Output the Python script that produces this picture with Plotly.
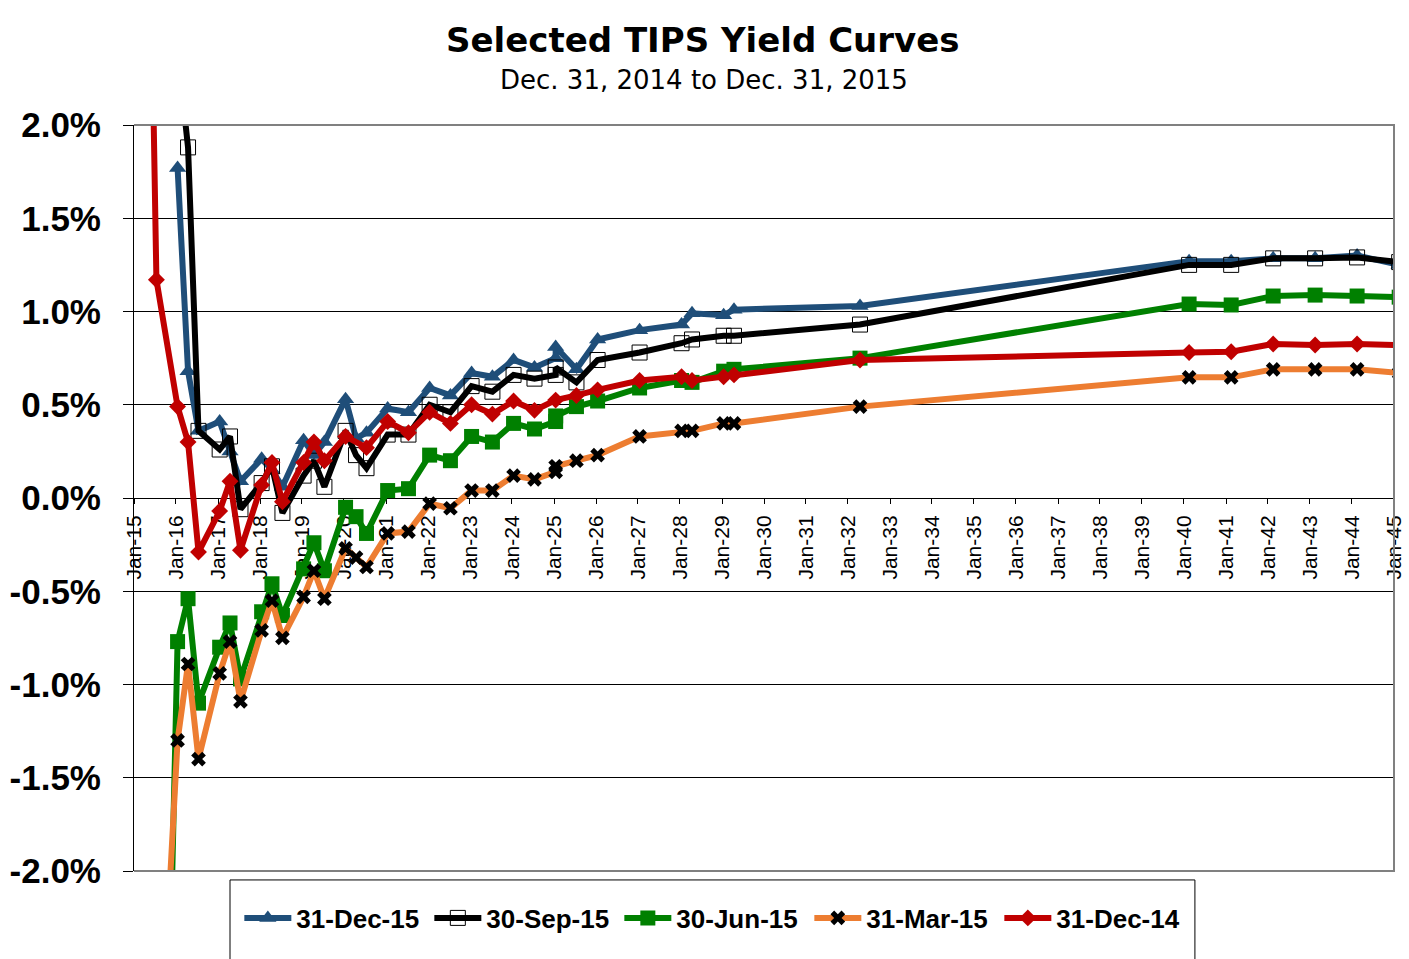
import plotly.graph_objects as go

# ---------------- data ----------------
series_names = ["31-Dec-15", "30-Sep-15", "30-Jun-15", "31-Mar-15", "31-Dec-14"]

mat_dec15 = ["2016-01-15", "2016-04-15", "2016-07-15", "2017-01-15", "2017-04-15", "2017-07-15",
             "2018-01-15", "2018-04-15", "2018-07-15", "2019-01-15", "2019-04-15", "2019-07-15",
             "2020-01-15", "2020-04-15", "2020-07-15", "2021-01-15", "2021-07-15", "2022-01-15",
             "2022-07-15", "2023-01-15", "2023-07-15", "2024-01-15", "2024-07-15", "2025-01-15",
             "2025-01-15", "2025-07-15", "2026-01-15", "2027-01-15", "2028-01-15", "2028-04-15",
             "2029-01-15", "2029-04-15", "2032-04-15", "2040-02-15", "2041-02-15", "2042-02-15",
             "2043-02-15", "2044-02-15", "2045-02-15"]
yld_dec15 = [1.77, 0.68, 0.36, 0.41, 0.25, 0.09, 0.21, 0.15, 0.06, 0.31, 0.23, 0.30,
             0.53, 0.32, 0.35, 0.48, 0.46, 0.59, 0.55, 0.67, 0.65, 0.74, 0.70, 0.75,
             0.81, 0.69, 0.85, 0.90, 0.93, 0.99, 0.98, 1.01, 1.03, 1.27, 1.27, 1.285,
             1.285, 1.30, 1.25]

mat_sep15 = list(mat_dec15)
yld_sep15 = [2.40, 1.88, 0.36, 0.26, 0.33, -0.06, 0.08, 0.17, -0.08, 0.12, 0.20, 0.06,
             0.36, 0.23, 0.16, 0.34, 0.34, 0.50, 0.46, 0.60, 0.57, 0.66, 0.64, 0.66,
             0.70, 0.62, 0.74, 0.78, 0.83, 0.85, 0.87, 0.87, 0.93, 1.25, 1.25, 1.285,
             1.285, 1.29, 1.265]

mat_jun15 = ["2015-07-15"] + mat_dec15
yld_jun15 = [-5.7, -0.77, -0.54, -1.10, -0.80, -0.67, -0.97, -0.61, -0.46, -0.63, -0.38, -0.24,
             -0.39, -0.05, -0.10, -0.19, 0.04, 0.05, 0.23, 0.20, 0.33, 0.30, 0.40, 0.37,
             0.41, 0.44, 0.49, 0.52, 0.59, 0.63, 0.62, 0.68, 0.69, 0.75, 1.04, 1.035,
             1.083, 1.088, 1.083, 1.077]

mat_mar15 = ["2015-04-15", "2015-07-15"] + mat_dec15
yld_mar15 = [-5.5, -3.4, -1.30, -0.89, -1.40, -0.94, -0.77, -1.09, -0.71, -0.55, -0.75, -0.53,
             -0.39, -0.54, -0.27, -0.32, -0.37, -0.19, -0.18, -0.03, -0.055, 0.04, 0.04, 0.12,
             0.10, 0.14, 0.17, 0.20, 0.23, 0.33, 0.36, 0.36, 0.40, 0.40, 0.49, 0.647,
             0.647, 0.69, 0.69, 0.69, 0.67]

mat_dec14 = ["2015-04-15", "2015-07-15", "2016-01-15", "2016-04-15", "2016-07-15", "2017-01-15",
             "2017-04-15", "2017-07-15", "2018-01-15", "2018-04-15", "2018-07-15", "2019-01-15",
             "2019-04-15", "2019-07-15", "2020-01-15", "2020-07-15", "2021-01-15", "2021-07-15",
             "2022-01-15", "2022-07-15", "2023-01-15", "2023-07-15", "2024-01-15", "2024-07-15",
             "2025-01-15", "2025-07-15", "2026-01-15", "2027-01-15", "2028-01-15", "2028-04-15",
             "2029-01-15", "2029-04-15", "2032-04-15", "2040-02-15", "2041-02-15", "2042-02-15",
             "2043-02-15", "2044-02-15", "2045-02-15"]
yld_dec14 = [4.4, 1.17, 0.49, 0.30, -0.29, -0.07, 0.09, -0.28, 0.07, 0.19, -0.02, 0.19,
             0.30, 0.20, 0.33, 0.27, 0.41, 0.35, 0.46, 0.40, 0.50, 0.45, 0.52, 0.47,
             0.525, 0.55, 0.58, 0.63, 0.65, 0.63, 0.65, 0.66, 0.74, 0.78, 0.784, 0.826,
             0.82, 0.826, 0.82]

y_tickvals = [-2.0, -1.5, -1.0, -0.5, 0.0, 0.5, 1.0, 1.5, 2.0]
y_ticktext = ["-2.0%", "-1.5%", "-1.0%", "-0.5%", "0.0%", "0.5%", "1.0%", "1.5%", "2.0%"]

title_text = "Selected TIPS Yield Curves"
subtitle_text = "Dec. 31, 2014 to Dec. 31, 2015"

# ---------------- styles ----------------
line_colors = ["#1F4E79", "#000000", "#008000", "#ED7D31", "#C00000"]
marker_styles = [
    dict(symbol="triangle-up", size=15, color="#1F4E79"),
    dict(symbol="square-open", size=15, color="#000000", line=dict(width=1, color="#000000")),
    dict(symbol="square", size=15, color="#008000"),
    dict(symbol="x", size=13, color="#000000"),
    dict(symbol="diamond", size=13, color="#C00000"),
]
xs = [mat_dec15, mat_sep15, mat_jun15, mat_mar15, mat_dec14]
ys = [yld_dec15, yld_sep15, yld_jun15, yld_mar15, yld_dec14]

fig = go.Figure()
for name, x, y, c, m in zip(series_names, xs, ys, line_colors, marker_styles):
    fig.add_trace(go.Scatter(x=x, y=y, name=name, mode="lines+markers",
                             line=dict(color=c, width=6), marker=m))

fig.update_layout(
    width=1409, height=959,
    margin=dict(l=134, r=15, t=125, b=88, pad=0, autoexpand=False),
    paper_bgcolor="white", plot_bgcolor="white",
    showlegend=True,
    legend=dict(orientation="h", x=0.0836, xanchor="left", y=-0.063, yanchor="middle",
                font=dict(family="Liberation Sans", size=26, color="black", weight="bold"),
                bgcolor="rgba(0,0,0,0)", borderwidth=0, itemwidth=47, entrywidth=128,
                traceorder="normal"),
    xaxis=dict(type="date", range=["2015-01-01", "2045-01-01"], dtick="M12", tick0="2015-01-01",
               tickformat="%b-%y", tickangle=-90, anchor="free", position=0.5,
               showline=True, linecolor="black", linewidth=1, ticks="outside", ticklen=5,
               tickcolor="black", showgrid=False, zeroline=False, layer="below traces",
               automargin=False, ticklabelstandoff=3,
               tickfont=dict(family="Liberation Sans", size=21, color="black")),
    yaxis=dict(range=[-2, 2], tickvals=y_tickvals, ticktext=y_ticktext, showgrid=True,
               gridcolor="black", gridwidth=1, zeroline=False, showline=True, linecolor="black",
               linewidth=1, ticks="outside", ticklen=10, tickcolor="black", ticklabelstandoff=15,
               automargin=False,
               tickfont=dict(family="Liberation Sans", size=35, color="black", weight="bold")),
    shapes=[
        dict(type="path", xref="paper", yref="paper", path="M0,1 L1,1 L1,0 L0,0",
             line=dict(color="#808080", width=2), layer="above"),
        dict(type="rect", xref="paper", yref="paper", x0=0.0762, x1=0.842, y0=-0.012, y1=-0.14,
             line=dict(color="black", width=1), layer="below"),
    ],
    annotations=[
        dict(text=title_text, xref="paper", yref="paper", x=0.4516, y=1.114, showarrow=False,
             xanchor="center", yanchor="middle",
             font=dict(family="DejaVu Sans", size=34, color="black", weight="bold")),
        dict(text=subtitle_text, xref="paper", yref="paper", x=0.4524, y=1.0603, showarrow=False,
             xanchor="center", yanchor="middle",
             font=dict(family="DejaVu Sans", size=26, color="black")),
    ],
)

fig.write_html("out.html", config={"displayModeBar": False},
               post_script="document.body.style.margin='0';")
